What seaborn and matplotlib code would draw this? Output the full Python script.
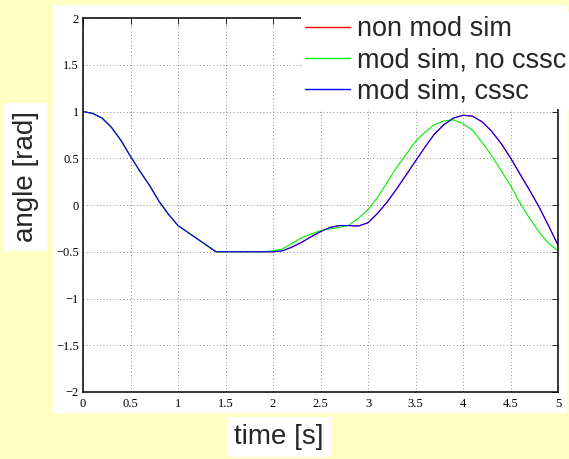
import numpy as np
import pandas as pd
import matplotlib
matplotlib.use("Agg")
import matplotlib.pyplot as plt
import seaborn as sns
from matplotlib.patches import Rectangle
from matplotlib.lines import Line2D
from matplotlib.ticker import FuncFormatter

# sample times, 0 .. 5 s every 0.1 s
time = [round(0.1 * i, 1) for i in range(51)]

# part that is the same for all three runs (t = 0.0 .. 1.9)
shared = [1.00, 0.98, 0.93, 0.83, 0.69, 0.52, 0.36, 0.21, 0.04, -0.10,
          -0.22, -0.29, -0.36, -0.43, -0.50, -0.50, -0.50, -0.50, -0.50, -0.50]

# t = 2.0 .. 5.0
non_mod_tail = [-0.50, -0.49, -0.45, -0.40, -0.34, -0.285, -0.24, -0.22, -0.22, -0.225,
                -0.19, -0.09, 0.03, 0.17, 0.32, 0.47, 0.62, 0.76, 0.86, 0.93,
                0.96, 0.95, 0.89, 0.79, 0.66, 0.505, 0.33, 0.16, -0.02, -0.22, -0.43]
no_cssc_tail = [-0.49, -0.47, -0.41, -0.35, -0.31, -0.275, -0.255, -0.24, -0.215, -0.14,
                -0.05, 0.08, 0.24, 0.40, 0.54, 0.68, 0.78, 0.86, 0.90, 0.91,
                0.87, 0.80, 0.67, 0.53, 0.37, 0.21, 0.02, -0.14, -0.29, -0.41, -0.49]
cssc_tail = [-0.50, -0.49, -0.45, -0.40, -0.34, -0.285, -0.24, -0.22, -0.22, -0.225,
             -0.19, -0.09, 0.03, 0.17, 0.32, 0.47, 0.62, 0.76, 0.86, 0.93,
             0.96, 0.95, 0.89, 0.79, 0.66, 0.505, 0.33, 0.16, -0.02, -0.22, -0.43]

non_mod = shared + non_mod_tail
mod_no_cssc = shared + no_cssc_tail
mod_cssc = shared + cssc_tail

labels = ["non mod sim", "mod sim, no cssc", "mod sim, cssc"]
colors = ["#ff0000", "#00ee00", "#0000ff"]

df = pd.concat([
    pd.DataFrame({"time": time, "angle": non_mod, "series": labels[0]}),
    pd.DataFrame({"time": time, "angle": mod_no_cssc, "series": labels[1]}),
    pd.DataFrame({"time": time, "angle": mod_cssc, "series": labels[2]}),
])

sns.set_style("white")
plt.rcParams["font.family"] = ["Liberation Serif", "DejaVu Serif"]

W, H = 569, 459
fig = plt.figure(figsize=(W / 100, H / 100), dpi=100, facecolor="#ffffc4")
# white panel behind the axes
fig.add_artist(Rectangle((53 / W, 46 / H), 514 / W, 408 / H, transform=fig.transFigure,
                         facecolor="white", edgecolor="none", zorder=0))

ax = fig.add_axes([83 / W, 67 / H, 475 / W, 374 / H])
ax.set_facecolor("white")

sns.lineplot(data=df, x="time", y="angle", hue="series", hue_order=labels,
             palette=colors, linewidth=0.8, errorbar=None, legend=False, ax=ax)

ax.set_xlim(0, 5)
ax.set_ylim(-2, 2)
ax.set_xticks(np.arange(0, 5.01, 0.5))
ax.set_yticks(np.arange(-2, 2.01, 0.5))
fmt = FuncFormatter(lambda v, p: ("%g" % v).replace("-", "\u2212"))
ax.xaxis.set_major_formatter(fmt)
ax.yaxis.set_major_formatter(fmt)
ax.tick_params(direction="in", top=True, right=True, length=4, width=0.6,
               labelsize=9, colors="black")
ax.tick_params(axis="y", pad=3)
ax.tick_params(axis="x", pad=4)
ax.grid(True, linestyle=(0, (1, 3)), color="0.4", linewidth=0.6)
for s in ax.spines.values():
    s.set_visible(True)
    s.set_color("black")
    s.set_linewidth(1.1)

sans = ["Liberation Sans", "DejaVu Sans"]
ax.set_xlabel("time [s]", fontsize=20, family=sans,
              bbox=dict(facecolor="white", edgecolor="none", pad=5))
ax.xaxis.set_label_coords(0.4126, -0.1203)
ax.xaxis.label.set_va("center")
ax.set_ylabel("angle [rad]", fontsize=20, family=sans,
              bbox=dict(facecolor="white", edgecolor="none", pad=6))
ax.yaxis.set_label_coords(-0.121, 0.575)
ax.yaxis.label.set_va("center")

handles = [Line2D([], [], color=c, linewidth=1.0) for c in colors]
leg = ax.legend(handles, labels, loc="upper left",
                bbox_to_anchor=(301 / W, 1 - 12 / H), bbox_transform=fig.transFigure,
                borderaxespad=0, borderpad=0.15, handlelength=1.67, handletextpad=0.26,
                labelspacing=0.2, frameon=True, fancybox=False, framealpha=1,
                facecolor="white", edgecolor="none",
                prop={"family": sans, "size": 19.5})

fig.savefig("out.png", dpi=100, facecolor=fig.get_facecolor())
